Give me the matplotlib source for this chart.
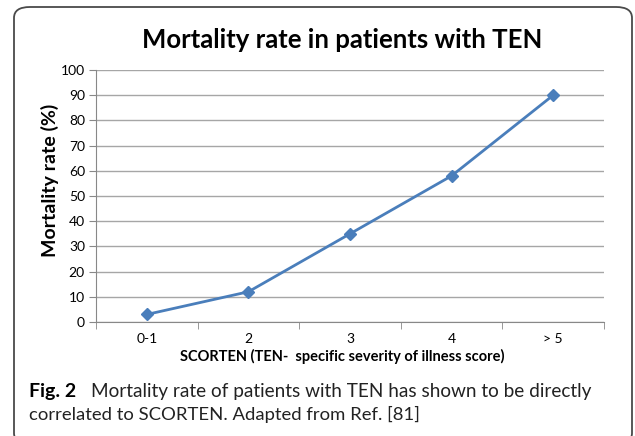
import matplotlib
matplotlib.use("Agg")
import matplotlib.pyplot as plt
from matplotlib.patches import FancyBboxPatch

categories = ["0-1", "2", "3", "4", "> 5"]
mortality = [3, 12, 35, 58, 90]
yticks = [0, 10, 20, 30, 40, 50, 60, 70, 80, 90, 100]

W, H = 635, 436
fig = plt.figure(figsize=(W / 100, H / 100), dpi=100)
fig.patch.set_facecolor("white")

frame = FancyBboxPatch((14 / W, -8 / H), (632 - 14) / W, (436 + 8 - 7) / H,
                       boxstyle="round,pad=0,rounding_size=0.025",
                       transform=fig.transFigure, fill=False,
                       edgecolor="#4a4a4a", linewidth=1.3, clip_on=False)
fig.patches.append(frame)

ax = fig.add_axes([96 / W, 1 - 322 / H, (604 - 96) / W, (322 - 70) / H])
x = list(range(len(categories)))
ax.plot(x, mortality, color="#4A7EBB", linewidth=2, marker="D",
        markersize=6, markerfacecolor="#4A7EBB", markeredgecolor="#4A7EBB")
ax.set_xlim(-0.5, len(categories) - 0.5)
ax.set_ylim(0, 100)
ax.set_yticks(yticks)
ax.set_yticklabels([str(v) for v in yticks], fontsize=10, family="Lato")
ax.set_xticks(x)
ax.set_xticklabels(categories, fontsize=10, family="Lato")
ax.tick_params(axis="x", length=0, pad=8)
ax.set_xticks([i - 0.5 for i in range(len(categories) + 1)], minor=True)
ax.tick_params(axis="x", which="minor", length=5, color="#888888")
ax.tick_params(axis="y", length=5, color="#888888", pad=3)
ax.grid(axis="y", color="#A6A6A6", linewidth=1)
ax.set_axisbelow(True)
for s in ["top", "right"]:
    ax.spines[s].set_visible(False)
for s in ["left", "bottom"]:
    ax.spines[s].set_color("#888888")

fig.text(0.5 * (143 + 541) / W, 1 - 40 / H, "Mortality rate in patients with TEN",
         ha="center", va="center", fontsize=18.5, fontweight="bold", family="Lato")
fig.text(50 / W, 1 - 180 / H, "Mortality rate (%)", rotation=90,
         ha="center", va="center", fontsize=14, fontweight="bold", family="Lato")
fig.text(0.5 * (189 + 495) / W, 1 - 356 / H,
         "SCORTEN (TEN-  specific severity of illness score)",
         ha="center", va="center", fontsize=10.5, fontweight="bold", family="Lato")

fig.text(29 / W, 1 - 397 / H, "Fig. 2", ha="left", va="baseline",
         fontsize=14, fontweight="bold", family="Lato")
fig.text(91 / W, 1 - 397 / H,
         "Mortality rate of patients with TEN has shown to be directly",
         ha="left", va="baseline", fontsize=13.7, family="Lato", color="#222222")
fig.text(29 / W, 1 - 420 / H,
         "correlated to SCORTEN. Adapted from Ref. [81]",
         ha="left", va="baseline", fontsize=13.3, family="Lato", color="#222222")

fig.savefig("out.png", dpi=100)
